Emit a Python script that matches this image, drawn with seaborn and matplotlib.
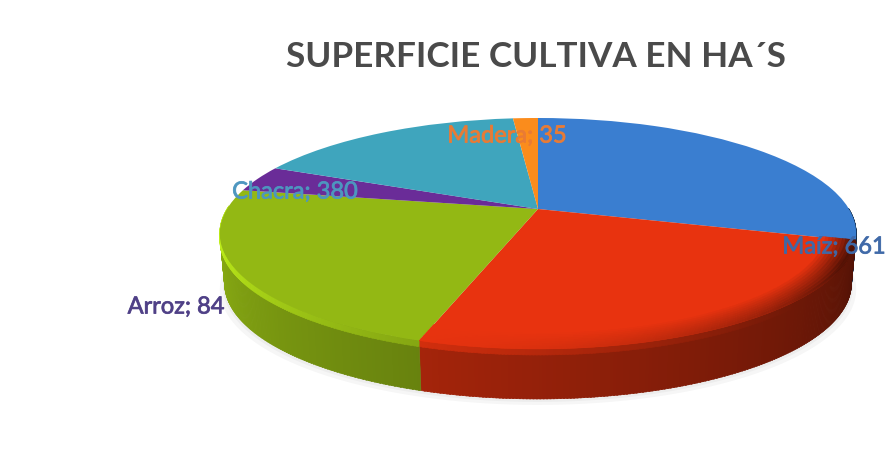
import numpy as np
import matplotlib
matplotlib.use("Agg")
import matplotlib.pyplot as plt
import matplotlib.patheffects as pe
from matplotlib.path import Path
from matplotlib.transforms import Transform
import seaborn as sns

TITLE = "SUPERFICIE CULTIVA EN HA´S"
# names of the red and green slices can't be read in the picture
names = ["Maíz", "", "", "Arroz", "Chacra", "Madera"]
values = [661, 575, 515, 84, 380, 35]
slice_colors = ["#3a7ed0", "#e8330f", "#93b814", "#6a2c98", "#3fa5bd", "#fb8c1c"]
label_colors = ["#3f69a8", None, None, "#4e3f86", "#4d97c0", "#e97b35"]
label_pos = [(834, 248), None, None, (176, 308), (295, 193), (507, 137)]

CX, CY = 538, 210      # apex of the pie in pixels
RX, RY = 311, 110.3
K = 0.212              # perspective strength
DEPTH = 50


def project(u, v):
    w = 1 + K * v
    return CX + RX * u / w, CY - RY * v / w


class Perspective(Transform):
    input_dims = 2
    output_dims = 2
    is_separable = False
    has_inverse = False

    def transform_non_affine(self, values):
        values = np.asarray(values)
        x, y = project(values[:, 0], values[:, 1])
        return np.column_stack([x, y])

    def transform_path_non_affine(self, path):
        return Path(self.transform_non_affine(path.vertices), path.codes)


def scale(color, m):
    return tuple(np.clip(np.array(matplotlib.colors.to_rgb(color)) * m, 0, 1))


def draw_side(ax, start, stop, color, darken):
    for a in np.arange(start, stop, 0.5):
        if not 178 <= a % 360 <= 362:
            continue
        t = np.clip(((a % 360) - 180) / 180, 0, 1)
        th = np.radians([a, min(a + 0.7, stop)])
        x, y = project(np.cos(th), np.sin(th))
        # bottom edge pulls in a little
        xb = CX + (x - CX) * 0.985
        m = 0.98 - 0.68 * t
        ax.fill([x[0], x[1], xb[1], xb[0]], [y[0], y[1], y[1] + DEPTH, y[0] + DEPTH],
                color=scale(color, m), lw=0.4, zorder=2)
        # lit bevel on the left that dies out towards the right
        lit = max(0.0, 1 - t / 0.75)
        ax.fill([x[0], x[1], x[1], x[0]], [y[0], y[1], y[1] + 6, y[0] + 6],
                color=scale(color, m + 0.42 * lit), lw=0.4, zorder=3)
        if not darken:
            continue
        # red top surface goes dark near the rim on the right
        dark = np.clip((t - 0.35) / 0.5, 0, 1) ** 2
        th2 = np.radians([a, a + 0.5])
        for r in np.arange(0.90, 1.0, 0.01):
            x0, y0 = project(r * np.cos(th2), r * np.sin(th2))
            x1, y1 = project((r + 0.01) * np.cos(th2), (r + 0.01) * np.sin(th2))
            ax.fill([x0[0], x0[1], x1[1], x1[0]], [y0[0], y0[1], y1[1], y1[0]],
                    color=scale(color, 1 - 0.75 * dark * (r - 0.9) / 0.1), lw=0.3, zorder=5)


sns.set_theme(style="white")
plt.rcParams["font.family"] = ["Lato", "DejaVu Sans"]

fig = plt.figure(figsize=(8.87, 4.56), dpi=100)
ax = fig.add_axes([0, 0, 1, 1])

wedges, _ = ax.pie(values, colors=sns.color_palette(slice_colors), startangle=90,
                   counterclock=False, wedgeprops={"linewidth": 0, "zorder": 4})
for w in wedges:
    w.set_transform(Perspective() + ax.transData)

ax.set_aspect("auto")
ax.set_xlim(0, 887)
ax.set_ylim(456, 0)
ax.axis("off")

# faint shadow under the disc
th = np.linspace(0, 2 * np.pi, 200)
sx, sy = project(np.cos(th), np.sin(th))
for grow, off in [(1.0, DEPTH + 6), (0.99, DEPTH + 3)]:
    ax.fill(CX + (sx - CX) * grow, sy + off, color="#000000", alpha=0.035, lw=0, zorder=1)

for i, (w, color) in enumerate(zip(wedges, slice_colors)):
    # pie goes clockwise so theta1 -> theta2 already spans the slice
    draw_side(ax, w.theta1, w.theta2, color, darken=i == 1)

ax.text(536, 57, TITLE, ha="center", va="center", fontsize=25.3, fontweight="bold", color="#4a4a4a")

for name, val, c, pos in zip(names, values, label_colors, label_pos):
    if pos is None:
        continue
    ax.text(pos[0], pos[1], f"{name}; {val}", ha="center", va="center", fontsize=17,
            color=c, alpha=0.9, zorder=6,
            path_effects=[pe.withStroke(linewidth=0.6, foreground=c)])

fig.savefig("out.png", dpi=100, facecolor="white")
